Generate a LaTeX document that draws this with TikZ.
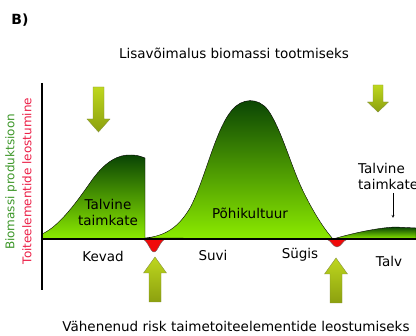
\documentclass[tikz,border=0pt]{standalone}
\usepackage{fontspec}
\setmainfont{DejaVu Sans}
\definecolor{cropdark}{RGB}{8,66,4}
\definecolor{cropmid}{RGB}{70,165,10}
\definecolor{croplime}{RGB}{140,235,0}
\definecolor{leachred}{RGB}{240,10,10}
\definecolor{arrowlight}{RGB}{238,255,25}
\definecolor{arrowtop}{RGB}{190,215,30}
\definecolor{arrowdark}{RGB}{140,160,15}
\definecolor{biogreen}{RGB}{60,150,40}
\definecolor{leachtext}{RGB}{235,30,70}
\tikzstyle{season}=[font=\fontsize{13.5}{16}\selectfont, inner sep=1pt]
\tikzstyle{caption}=[font=\fontsize{13.5}{16}\selectfont]
\tikzstyle{axis label}=[font=\fontsize{12}{14}\selectfont, rotate=90]
\tikzstyle{crop}=[draw=black, thin, top color=cropdark, middle color=cropmid, bottom color=croplime]
\tikzstyle{leaching}=[draw=black!60, thin, fill=leachred]
\tikzstyle{fat arrow}=[draw=arrowdark!60!gray, thin, top color=arrowtop, middle color=arrowlight, bottom color=arrowdark]
\tikzstyle{axis line}=[line width=1.3pt]

\begin{document}
\begin{tikzpicture}[x=1pt, y=-1pt]
    \useasboundingbox (0,0) rectangle (416,336);

    \node[font=\fontsize{14}{16}\selectfont\bfseries] (panel) at (20,20) {B)};
    \node[caption] (chance) at (234,53) {Lisavõimalus biomassi tootmiseks};
    \node[caption] (risk) at (236,326) {Vähenenud risk taimetoiteelementide leostumiseks};

    \node[axis label, text=biogreen] (biomass) at (11,182) {Biomassi produktsioon};
    \node[axis label, text=leachtext] (leaching) at (27,181) {Toiteelementide leostumine};

    % crops
    \path[crop] (42,234)
      .. controls (60,226) and (78,200) .. (92,180)
      .. controls (105,162) and (118,154) .. (132,155)
      .. controls (138,155) and (142,157) .. (145,158)
      -- (145,239) -- (42,239) -- cycle;
    \path[crop] (145,238)
      .. controls (165,236) and (178,228) .. (190,208)
      .. controls (205,180) and (215,130) .. (232,110)
      .. controls (242,98) and (258,97) .. (268,110)
      .. controls (282,130) and (292,170) .. (305,195)
      .. controls (315,215) and (325,230) .. (333,239)
      -- cycle;
    \path[crop] (333,239)
      .. controls (350,234) and (375,228) .. (395,227)
      -- (416,228) -- (416,239) -- cycle;

    % leaching dips
    \path[leaching] (142,239)
      .. controls (148,240) and (150,252) .. (154,252)
      .. controls (158,252) and (160,240) .. (166,239) -- cycle;
    \path[leaching] (326,239)
      .. controls (331,240) and (333,247) .. (337,247)
      .. controls (341,247) and (343,240) .. (348,239) -- cycle;

    \draw[axis line] (42,83) -- (42,290);
    \draw[axis line] (42,239) -- (416,239);

    % arrows
    \path[fat arrow] (93,87) -- (104,87) -- (104,119) -- (110,119) -- (98.5,132)
      -- (87,119) -- (93,119) -- cycle;
    \path[fat arrow] (373,85) -- (383,85) -- (383,102) -- (388.5,102) -- (378,112)
      -- (367.5,102) -- (373,102) -- cycle;
    \path[fat arrow] (149,302) -- (161,302) -- (161,273) -- (166.5,273) -- (155,257)
      -- (143.5,273) -- (149,273) -- cycle;
    \path[fat arrow] (330,303) -- (342,303) -- (342,274) -- (347.5,274) -- (336,258)
      -- (324.5,274) -- (330,274) -- cycle;

    \node[season] (cover) at (108,212) [align=center] {Talvine\\taimkate};
    \node[season] (main crop) at (250,213) {Põhikultuur};
    \node[season] (spring) at (103,256) {Kevad};
    \node[season] (summer) at (213,255) {Suvi};
    \node[season] (autumn) at (300,255) {Sügis};
    \node[season] (winter) at (389,261) {Talv};
    \node[season, anchor=west, align=left] (cover late) at (357,176) {Talvine\\taimkate};

    \coordinate (cover late top) at (393,193);
    \coordinate (cover late crop) at (393,218);
    \draw[-stealth, thin] (cover late top) -- (cover late crop);
\end{tikzpicture}
\end{document}
